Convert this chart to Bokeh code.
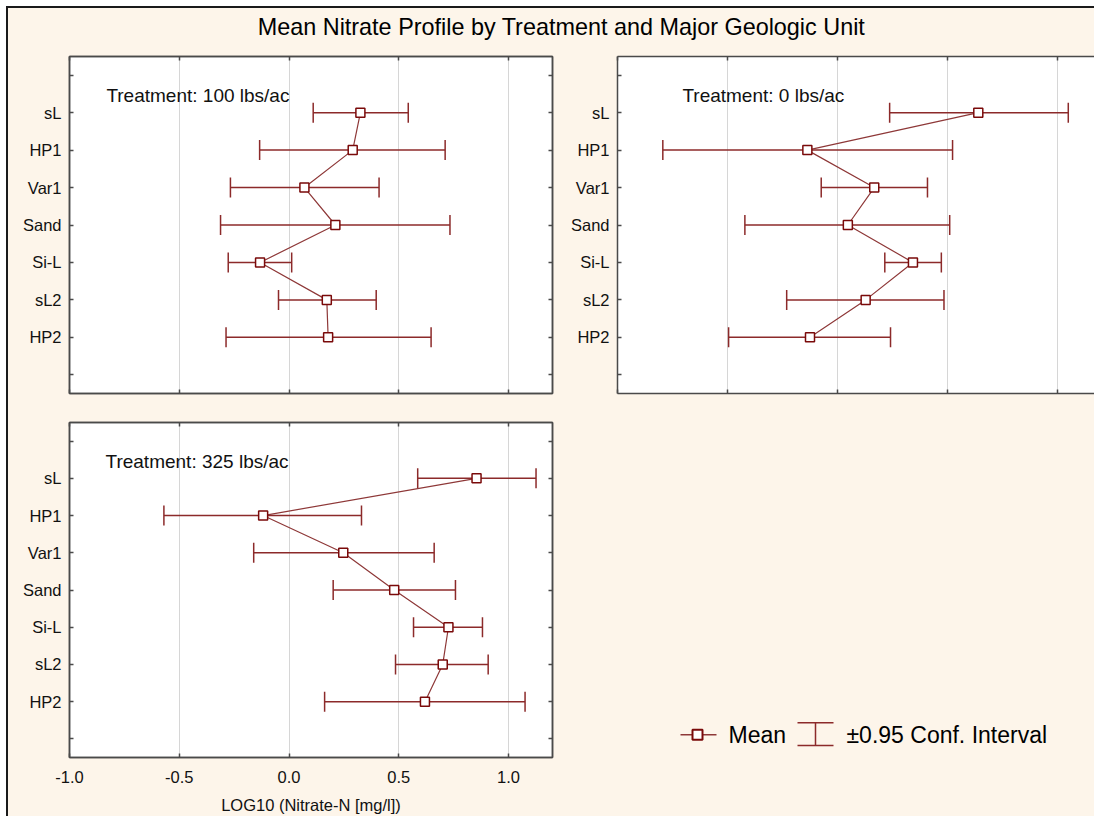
from bokeh.plotting import figure
from bokeh.models import (Range1d, FixedTicker, LinearAxis, Whisker, TeeHead,
                          ColumnDataSource, Label, NumeralTickFormatter, Spacer, Grid)
from bokeh.layouts import row, column
from bokeh.embed import file_html
from bokeh.resources import INLINE

# ---------------- data ----------------
categories = ["sL", "HP1", "Var1", "Sand", "Si-L", "sL2", "HP2"]

mean_100 = [0.325, 0.290, 0.070, 0.211, -0.132, 0.172, 0.178]
lo_100 = [0.110, -0.134, -0.267, -0.312, -0.277, -0.048, -0.287]
hi_100 = [0.543, 0.711, 0.410, 0.733, 0.012, 0.397, 0.647]

mean_0 = [0.640, -0.137, 0.167, 0.047, 0.343, 0.128, -0.125]
lo_0 = [0.237, -0.794, -0.074, -0.421, 0.215, -0.231, -0.495]
hi_0 = [1.049, 0.523, 0.409, 0.510, 0.472, 0.484, 0.241]

mean_325 = [0.854, -0.118, 0.247, 0.479, 0.726, 0.700, 0.619]
lo_325 = [0.586, -0.570, -0.161, 0.201, 0.567, 0.485, 0.162]
hi_325 = [1.125, 0.330, 0.661, 0.758, 0.881, 0.907, 1.075]

treatments = ["Treatment: 100 lbs/ac", "Treatment: 0 lbs/ac", "Treatment: 325 lbs/ac"]
x_ticks = [-1.0, -0.5, 0.0, 0.5, 1.0]
x_axis_label = "LOG10 (Nitrate-N [mg/l])"
title_text = "Mean Nitrate Profile by Treatment and Major Geologic Unit"
legend_labels = ["Mean", "\u00b10.95 Conf. Interval"]

# ---------------- style ----------------
CREAM = "#FDF5EA"
FONT = "Liberation Sans"
FRAME = "#4A4A4A"
BAR = "#8C2A2A"
MARK = "#7A0A0A"
LINEC = "#8E3838"

cat_pos = list(range(1, len(categories) + 1))
y_labels = {p: c for p, c in zip(cat_pos, categories)}
y_extra = [0, len(categories) + 1]


def tick_style(ax):
    ax.major_tick_in = 4
    ax.major_tick_out = 0
    ax.minor_tick_in = 4
    ax.minor_tick_out = 0
    ax.axis_line_color = FRAME
    ax.axis_line_width = 1.5
    ax.major_tick_line_color = FRAME
    ax.major_tick_line_width = 1.5
    ax.minor_tick_line_color = FRAME
    ax.minor_tick_line_width = 1.5
    return ax


def make_panel(width, height, mbl, mbr, mbt, mbb, xmax, mean, lo, hi, label, label_x,
               show_xlabels, right_axis, outline):
    p = figure(width=width, height=height, x_range=Range1d(-1.0, xmax),
               y_range=Range1d(len(categories) + 1.5, -0.5),
               x_axis_type=None, y_axis_type=None,
               output_backend="svg", toolbar_location=None,
               min_border_left=mbl, min_border_right=mbr,
               min_border_top=mbt, min_border_bottom=mbb,
               background_fill_color="white", border_fill_color=CREAM)
    p.outline_line_color = FRAME if outline else None
    p.outline_line_width = 1.5

    grid = Grid(dimension=0, ticker=FixedTicker(ticks=[t for t in x_ticks if t > -1.0]),
                grid_line_color="#ADADAD", grid_line_dash="1 1", grid_line_width=1)
    p.add_layout(grid)

    # bottom axis
    if show_xlabels:
        xb = tick_style(LinearAxis(ticker=FixedTicker(ticks=x_ticks),
                                   formatter=NumeralTickFormatter(format="0.0")))
        xb.major_label_text_font = FONT
        xb.major_label_text_font_size = "16.5px"
        xb.major_label_text_color = "#111111"
        xb.major_label_standoff = 13
        xb.axis_label = x_axis_label
        xb.axis_label_text_font = FONT
        xb.axis_label_text_font_size = "16.5px"
        xb.axis_label_text_font_style = "normal"
        xb.axis_label_text_color = "#111111"
        xb.axis_label_standoff = 10
    else:
        xb = tick_style(LinearAxis(ticker=FixedTicker(ticks=[], minor_ticks=x_ticks)))
    p.add_layout(xb, "below")

    xa = tick_style(LinearAxis(ticker=FixedTicker(ticks=[], minor_ticks=x_ticks)))
    p.add_layout(xa, "above")

    yl = tick_style(LinearAxis(ticker=FixedTicker(ticks=cat_pos, minor_ticks=y_extra),
                               major_label_overrides=dict(y_labels)))
    yl.major_label_text_font = FONT
    yl.major_label_text_font_size = "16.5px"
    yl.major_label_text_color = "#111111"
    yl.major_label_standoff = 8
    p.add_layout(yl, "left")

    if right_axis:
        yr = tick_style(LinearAxis(ticker=FixedTicker(ticks=[], minor_ticks=y_extra + cat_pos)))
        p.add_layout(yr, "right")

    src = ColumnDataSource(dict(y=cat_pos, mean=mean, lo=lo, hi=hi))
    wh = Whisker(source=src, base="y", lower="lo", upper="hi", dimension="width",
                 line_color=BAR, line_width=1.5,
                 upper_head=TeeHead(size=20, line_color=BAR, line_width=1.5),
                 lower_head=TeeHead(size=20, line_color=BAR, line_width=1.5))
    p.add_layout(wh)
    p.line(x="mean", y="y", source=src, line_color=LINEC, line_width=1.2)
    p.scatter(x="mean", y="y", source=src, marker="square", size=9,
              fill_color="white", line_color=MARK, line_width=1.5)

    p.add_layout(Label(x=label_x, y=0.55, text=label, text_font=FONT,
                       text_font_size="19px", text_baseline="middle",
                       text_color="#111111"))
    return p


p1 = make_panel(550, 360, 61, 6, 8, 15, 1.2, mean_100, lo_100, hi_100,
                treatments[0], -0.832, False, True, True)
p2 = make_panel(536, 360, 59, 0, 8, 15, -1.0 + 477 / 220.0, mean_0, lo_0, hi_0,
                treatments[1], -0.705, False, False, False)
p3 = make_panel(550, 408, 61, 6, 14, 57, 1.2, mean_325, lo_325, hi_325,
                treatments[2], -0.836, True, True, True)

# title strip
tfig = figure(width=1086, height=40, x_range=Range1d(0, 1086), y_range=Range1d(40, 0),
              x_axis_type=None, y_axis_type=None, output_backend="svg",
              toolbar_location=None, min_border=0,
              background_fill_color=CREAM, border_fill_color=CREAM)
tfig.outline_line_color = None
tfig.add_layout(Label(x=553, y=18, text=title_text, text_font=FONT,
                      text_font_size="23.4px", text_align="center",
                      text_baseline="middle", text_color="#000000"))

# legend area (its frame is aligned with p3's frame: 337 px tall)
lfig = figure(width=536, height=408, x_range=Range1d(0, 536), y_range=Range1d(337, 0),
              x_axis_type=None, y_axis_type=None, output_backend="svg",
              toolbar_location=None, min_border_left=0, min_border_right=0,
              min_border_top=14, min_border_bottom=57,
              background_fill_color=CREAM, border_fill_color=CREAM)
lfig.outline_line_color = None
ly = 314
lfig.line(x=[122, 158], y=[ly, ly], line_color=LINEC, line_width=1.5)
lfig.scatter(x=[139], y=[ly], marker="square", size=10, fill_color="white",
             line_color=MARK, line_width=2)
lfig.add_layout(Label(x=170, y=ly, text=legend_labels[0], text_font=FONT,
                      text_font_size="23px", text_baseline="middle", text_color="#000000"))
lfig.segment(x0=[239, 239, 257], y0=[ly - 12, ly + 11, ly - 12],
             x1=[275, 275, 257], y1=[ly - 12, ly + 11, ly + 11],
             line_color=BAR, line_width=1.5)
lfig.add_layout(Label(x=288, y=ly, text=legend_labels[1], text_font=FONT,
                      text_font_size="23px", text_baseline="middle", text_color="#000000"))

white_left = Spacer(width=6, height=816)
left_bar = Spacer(width=2, height=810, styles={"background-color": "#1A1A1A"})
white_top = Spacer(width=1086, height=6, styles={"background-color": "white"})
top_bar = Spacer(width=1086, height=2, styles={"background-color": "#1A1A1A"})

main = column(white_top, top_bar, tfig, row(p1, p2), row(p3, lfig),
              styles={"background-color": CREAM})
layout = row(white_left, column(Spacer(width=2, height=6), left_bar), main)

open("out.html", "w").write(file_html(layout, INLINE))
